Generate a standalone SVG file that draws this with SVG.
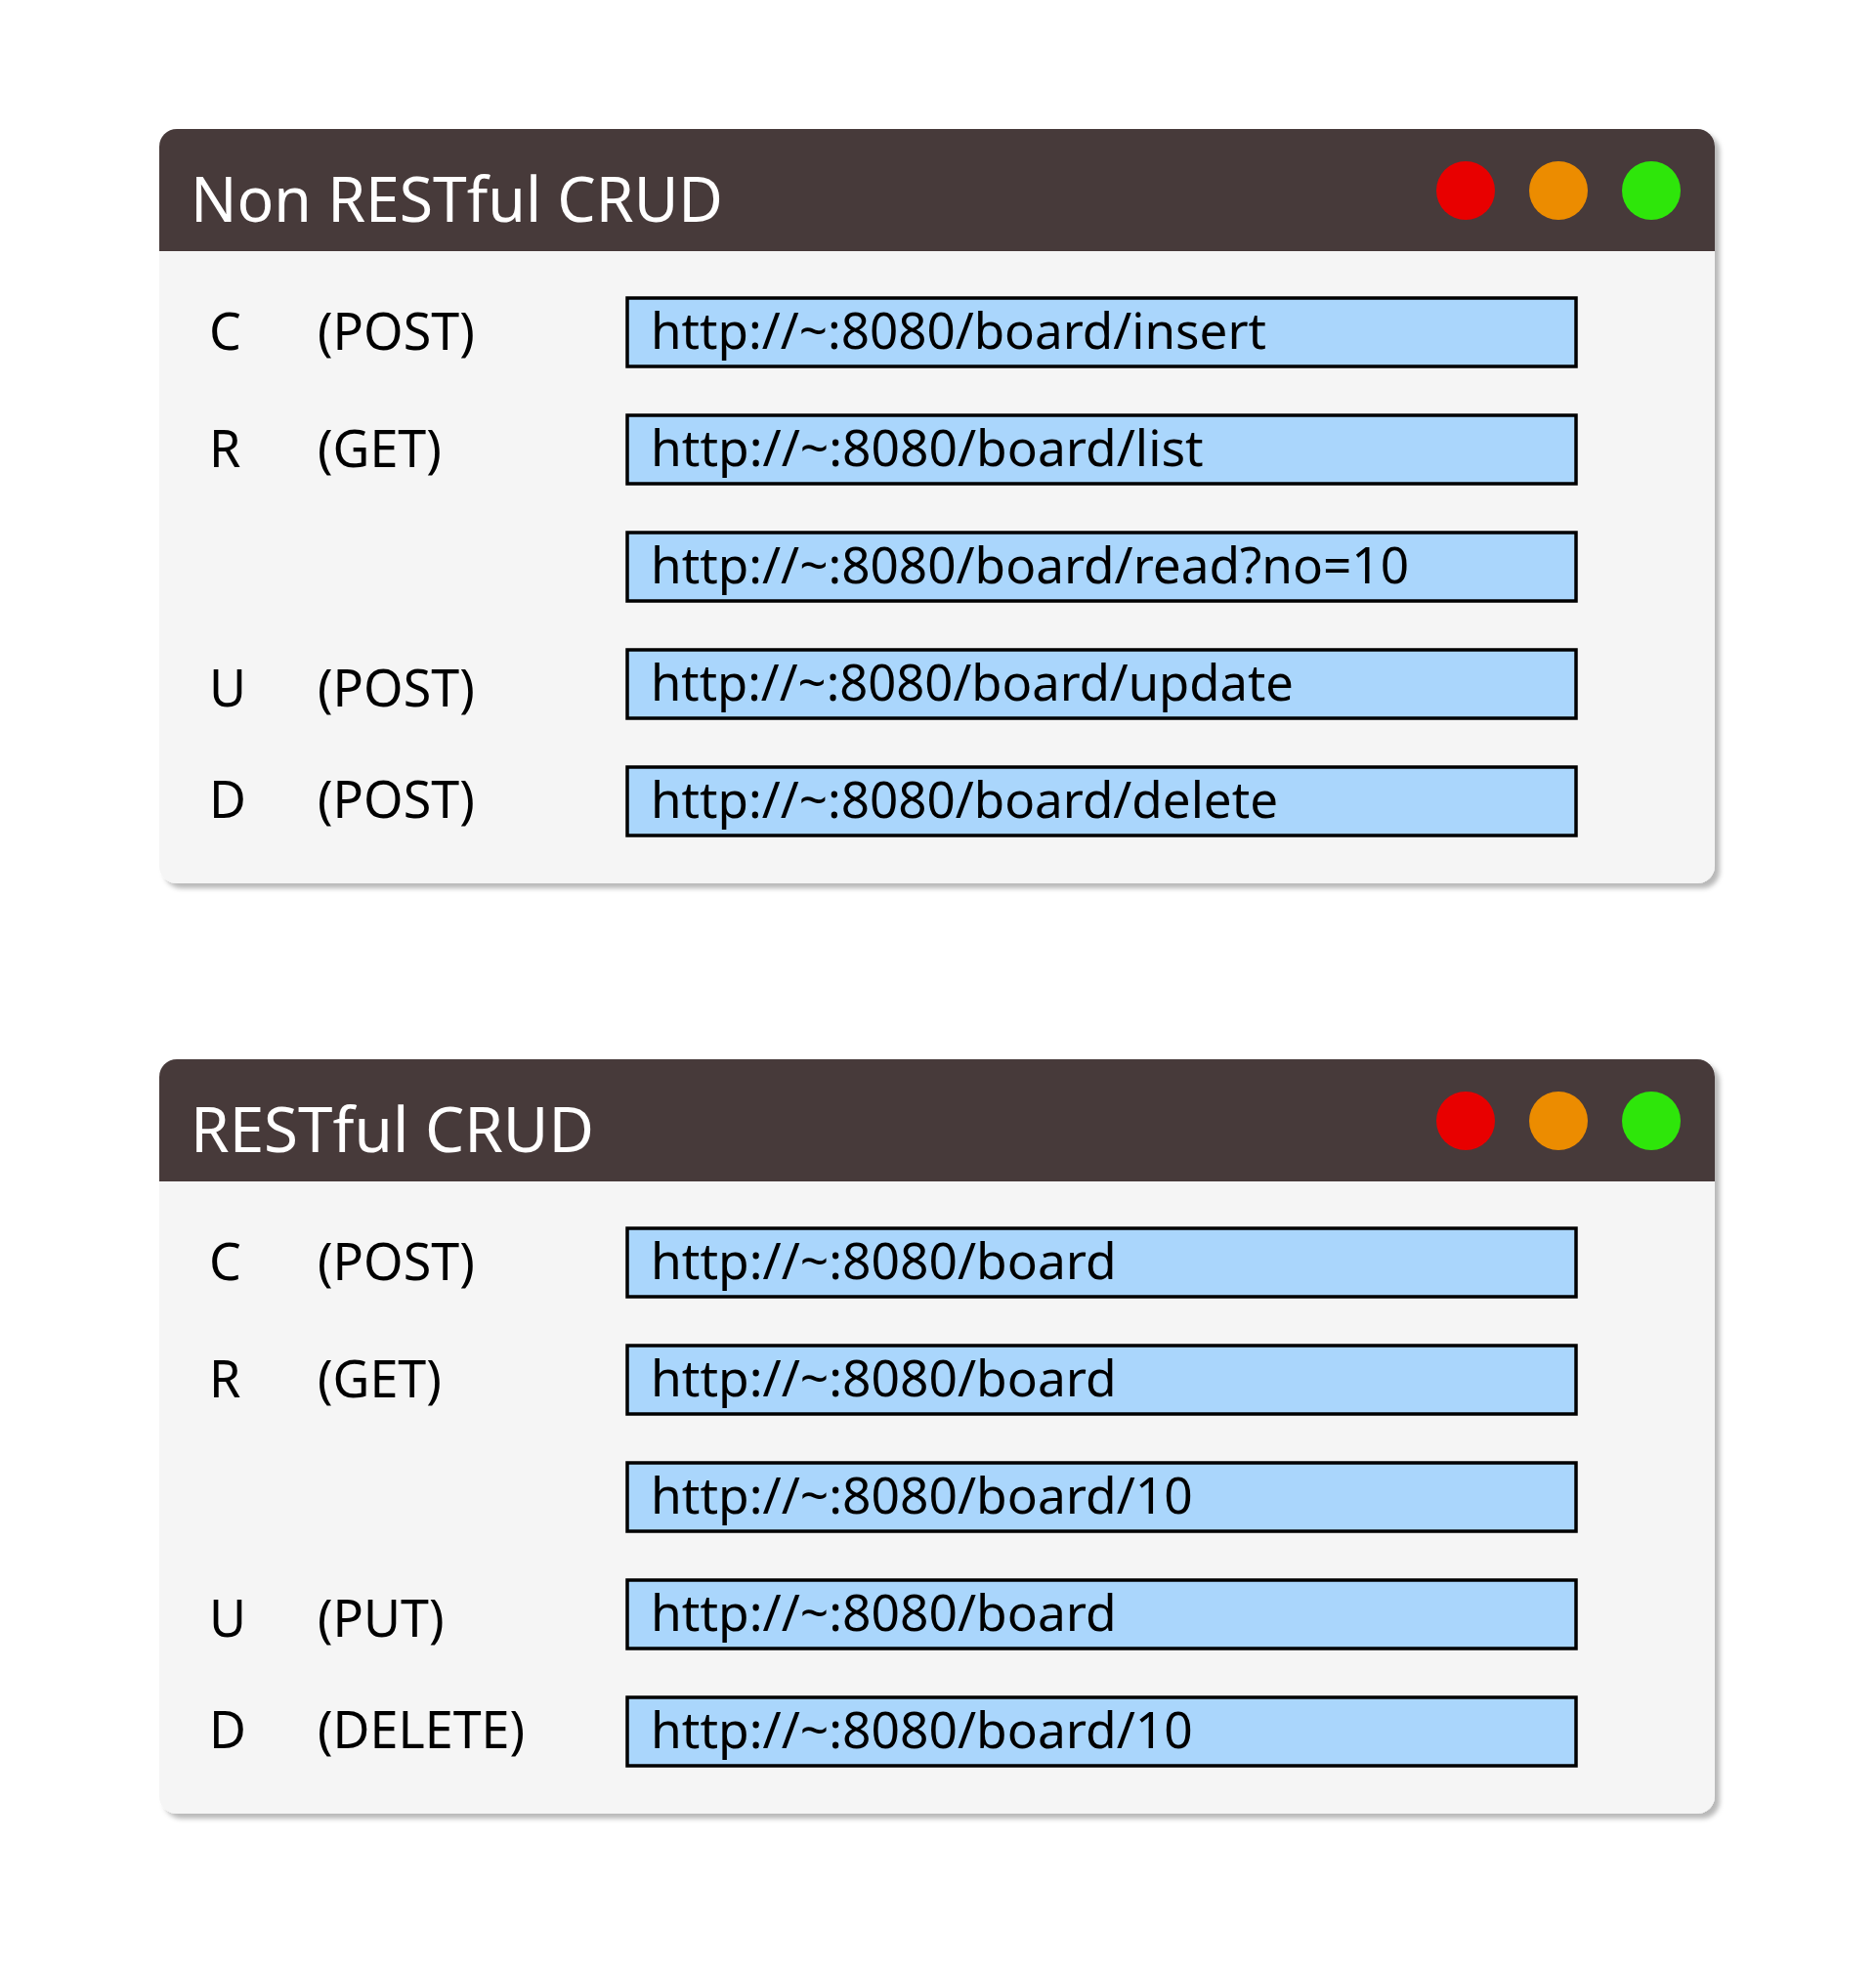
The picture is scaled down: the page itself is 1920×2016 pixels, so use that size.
<svg xmlns="http://www.w3.org/2000/svg" width="1920" height="2016" viewBox="0 0 1920 2016">
  <defs>
    <filter id="shadow" x="-5%" y="-5%" width="110%" height="115%">
      <feDropShadow dx="5" dy="5" stdDeviation="2.5" flood-color="#000" flood-opacity="0.28"/>
    </filter>
  </defs>
  <style>
    .body { fill: #f5f5f5; }
    .bar { fill: #473a3a; }
    .title { font-family: "Noto Sans", "Open Sans", sans-serif; font-size: 63px; fill: #ffffff; }
    .lbl { font-family: "Noto Sans", "Open Sans", sans-serif; font-size: 52px; fill: #000000; }
    .url { fill: #aad6fc; stroke: #000000; stroke-width: 3.5; }
    .utext { font-family: "Noto Sans", "Open Sans", sans-serif; font-size: 51.5px; fill: #000000; }
    .red { fill: #e80000; }
    .orange { fill: #ec8c00; }
    .green { fill: #2ee60a; }
  </style>
  <rect width="1920" height="2016" fill="#ffffff"/>

  <g id="window-non-restful">
    <rect class="body" x="163" y="132" width="1592" height="772" rx="18" filter="url(#shadow)"/>
    <path class="bar" d="M163,257 V150 A18,18 0 0 1 181,132 H1737 A18,18 0 0 1 1755,150 V257 Z"/>
    <text class="title" x="195" y="227" textLength="545" lengthAdjust="spacingAndGlyphs">Non RESTful CRUD</text>
    <circle class="red" cx="1500" cy="195" r="30"/>
    <circle class="orange" cx="1595" cy="195" r="30"/>
    <circle class="green" cx="1690" cy="195" r="30"/>

    <g id="nr-create">
      <text class="lbl" x="214" y="358">C</text>
      <text class="lbl" x="325" y="358">(POST)</text>
      <rect class="url" x="642" y="305" width="971" height="70"/>
      <text class="utext" x="666" y="357" textLength="630" lengthAdjust="spacingAndGlyphs">http://~:8080/board/insert</text>
    </g>
    <g id="nr-read">
      <text class="lbl" x="214" y="478">R</text>
      <text class="lbl" x="325" y="478">(GET)</text>
      <rect class="url" x="642" y="425" width="971" height="70"/>
      <text class="utext" x="666" y="477">http://~:8080/board/list</text>
      <rect class="url" x="642" y="545" width="971" height="70"/>
      <text class="utext" x="666" y="597" textLength="776" lengthAdjust="spacingAndGlyphs">http://~:8080/board/read?no=10</text>
    </g>
    <g id="nr-update">
      <text class="lbl" x="214" y="723">U</text>
      <text class="lbl" x="325" y="723">(POST)</text>
      <rect class="url" x="642" y="665" width="971" height="70"/>
      <text class="utext" x="666" y="717" textLength="658" lengthAdjust="spacingAndGlyphs">http://~:8080/board/update</text>
    </g>
    <g id="nr-delete">
      <text class="lbl" x="214" y="837">D</text>
      <text class="lbl" x="325" y="837">(POST)</text>
      <rect class="url" x="642" y="785" width="971" height="70"/>
      <text class="utext" x="666" y="837" textLength="642" lengthAdjust="spacingAndGlyphs">http://~:8080/board/delete</text>
    </g>
  </g>

  <g id="window-restful">
    <rect class="body" x="163" y="1084" width="1592" height="772" rx="18" filter="url(#shadow)"/>
    <path class="bar" d="M163,1209 V1102 A18,18 0 0 1 181,1084 H1737 A18,18 0 0 1 1755,1102 V1209 Z"/>
    <text class="title" x="195" y="1179" textLength="413" lengthAdjust="spacingAndGlyphs">RESTful CRUD</text>
    <circle class="red" cx="1500" cy="1147" r="30"/>
    <circle class="orange" cx="1595" cy="1147" r="30"/>
    <circle class="green" cx="1690" cy="1147" r="30"/>

    <g id="r-create">
      <text class="lbl" x="214" y="1310">C</text>
      <text class="lbl" x="325" y="1310">(POST)</text>
      <rect class="url" x="642" y="1257" width="971" height="70"/>
      <text class="utext" x="666" y="1309">http://~:8080/board</text>
    </g>
    <g id="r-read">
      <text class="lbl" x="214" y="1430">R</text>
      <text class="lbl" x="325" y="1430">(GET)</text>
      <rect class="url" x="642" y="1377" width="971" height="70"/>
      <text class="utext" x="666" y="1429">http://~:8080/board</text>
      <rect class="url" x="642" y="1497" width="971" height="70"/>
      <text class="utext" x="666" y="1549">http://~:8080/board/10</text>
    </g>
    <g id="r-update">
      <text class="lbl" x="214" y="1675">U</text>
      <text class="lbl" x="325" y="1675">(PUT)</text>
      <rect class="url" x="642" y="1617" width="971" height="70"/>
      <text class="utext" x="666" y="1669">http://~:8080/board</text>
    </g>
    <g id="r-delete">
      <text class="lbl" x="214" y="1789">D</text>
      <text class="lbl" x="325" y="1789">(DELETE)</text>
      <rect class="url" x="642" y="1737" width="971" height="70"/>
      <text class="utext" x="666" y="1789">http://~:8080/board/10</text>
    </g>
  </g>
</svg>
